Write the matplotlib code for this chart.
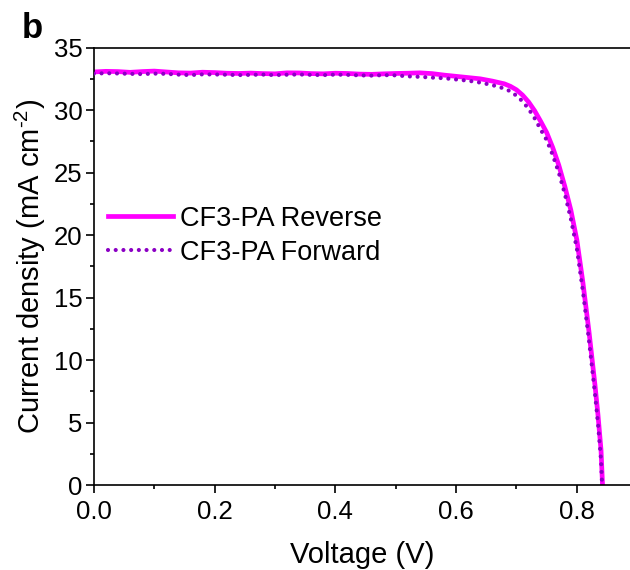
import numpy as np
import matplotlib
matplotlib.use("Agg")
import matplotlib.pyplot as plt
from matplotlib.ticker import MultipleLocator

plt.rcParams['font.family'] = ['Liberation Sans', 'DejaVu Sans']
plt.rcParams['mathtext.fontset'] = 'custom'
plt.rcParams['mathtext.rm'] = 'Liberation Sans'
plt.rcParams['mathtext.it'] = 'Liberation Sans:italic'

# reverse scan J-V
v_rev = [0.00, 0.02, 0.04, 0.06, 0.08, 0.10, 0.12, 0.14, 0.16, 0.18, 0.20, 0.22,
         0.24, 0.26, 0.28, 0.30, 0.32, 0.34, 0.36, 0.38, 0.40, 0.42, 0.44, 0.46,
         0.48, 0.50, 0.52, 0.54, 0.56, 0.58, 0.60, 0.62, 0.64, 0.66, 0.68, 0.69,
         0.70, 0.71, 0.72, 0.73, 0.74, 0.75, 0.76, 0.77, 0.78, 0.79, 0.80, 0.81,
         0.82, 0.83, 0.835, 0.84, 0.8425]
j_rev = [33.05, 33.10, 33.08, 33.02, 33.08, 33.12, 33.05, 32.98, 32.96, 33.03, 33.00, 32.95,
         32.93, 32.96, 32.92, 32.90, 32.98, 32.97, 32.92, 32.90, 32.95, 32.93, 32.88, 32.86,
         32.90, 32.93, 32.95, 32.98, 32.92, 32.80, 32.70, 32.60, 32.50, 32.32, 32.10, 31.90,
         31.62, 31.20, 30.65, 29.95, 29.10, 28.20, 27.00, 25.60, 23.90, 22.00, 19.60, 16.20,
         12.30, 8.00, 5.60, 2.80, 0.0]

# forward scan J-V
v_fwd = [0.00, 0.02, 0.04, 0.06, 0.08, 0.10, 0.12, 0.14, 0.16, 0.18, 0.20, 0.22,
         0.24, 0.26, 0.28, 0.30, 0.32, 0.34, 0.36, 0.38, 0.40, 0.42, 0.44, 0.46,
         0.48, 0.50, 0.52, 0.54, 0.56, 0.58, 0.60, 0.62, 0.64, 0.66, 0.68, 0.69,
         0.70, 0.71, 0.72, 0.73, 0.74, 0.75, 0.76, 0.77, 0.78, 0.79, 0.80, 0.81,
         0.82, 0.83, 0.835, 0.84, 0.8418]
j_fwd = [32.92, 32.95, 32.93, 32.90, 32.88, 32.92, 32.90, 32.84, 32.80, 32.86, 32.85, 32.83,
         32.80, 32.82, 32.84, 32.80, 32.83, 32.85, 32.82, 32.80, 32.84, 32.82, 32.78, 32.76,
         32.80, 32.78, 32.70, 32.66, 32.60, 32.55, 32.45, 32.35, 32.20, 32.00, 31.72, 31.50,
         31.15, 30.70, 30.10, 29.35, 28.45, 27.60, 26.40, 25.00, 23.30, 21.30, 18.90, 15.50,
         11.60, 7.30, 4.90, 2.00, 0.0]

fig = plt.figure(figsize=(6.3, 5.7), dpi=100)
ax = fig.add_axes([0.149, 0.149, 0.851, 0.7675])

ax.plot(v_rev, j_rev, color='#FF00FF', lw=3.4, label='CF3-PA Reverse', zorder=2)
ax.plot(v_fwd, j_fwd, color='#8B00C4', lw=3.0, dashes=(0.001, 1.85),
        dash_capstyle='round', label='CF3-PA Forward', zorder=3)

ax.set_xlim(0, 0.888)
ax.set_ylim(0, 35)
ax.xaxis.set_major_locator(MultipleLocator(0.2))
ax.xaxis.set_minor_locator(MultipleLocator(0.1))
ax.yaxis.set_major_locator(MultipleLocator(5))
ax.yaxis.set_minor_locator(MultipleLocator(2.5))
ax.set_xticks([0.0, 0.2, 0.4, 0.6, 0.8])
ax.set_xticklabels(['0.0', '0.2', '0.4', '0.6', '0.8'])
ax.tick_params(which='major', direction='out', length=6, width=1.2, labelsize=18.5)
ax.tick_params(which='minor', direction='out', length=3, width=1.2)
ax.tick_params(axis='x', which='major', pad=5)
ax.tick_params(axis='y', which='major', pad=2)
ax.spines['right'].set_visible(False)
for s in ['left', 'bottom', 'top']:
    ax.spines[s].set_linewidth(1.2)

ax.set_xlabel('Voltage (V)', fontsize=21, labelpad=12)
ax.set_ylabel(r'Current density (mA cm$^{\text{-}2}$)', fontsize=21, labelpad=4)

ax.legend(loc='center left', bbox_to_anchor=(0.0265, 0.57), frameon=False,
          fontsize=19.5, handlelength=2.4, handletextpad=0.25, labelspacing=0.3,
          borderpad=0, borderaxespad=0)

fig.text(0.035, 0.933, 'b', fontsize=25, fontweight='bold', ha='left', va='baseline')

fig.savefig('out.png', dpi=100)
